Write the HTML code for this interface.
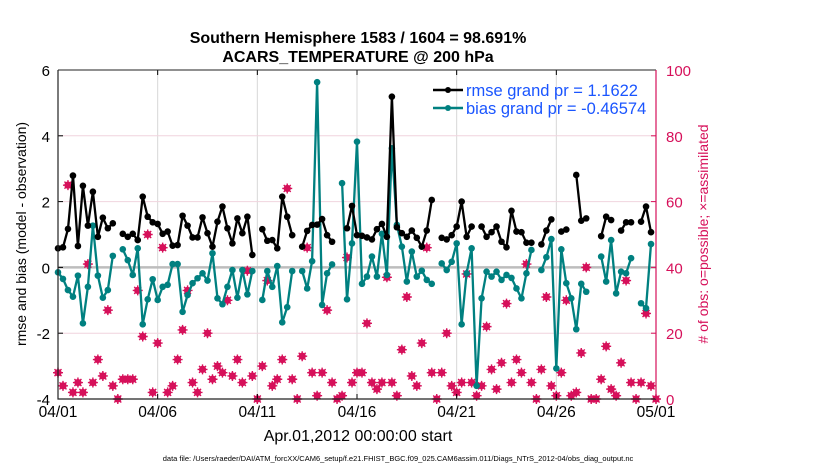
<!DOCTYPE html>
<html><head><meta charset="utf-8"><style>
body{margin:0;background:#fff;}
svg{display:block;font-family:"Liberation Sans",Arial,sans-serif;}
</style></head><body>
<svg id="c" width="830" height="470" viewBox="0 0 830 470">
<text x="358" y="43" text-anchor="middle" font-size="16" font-weight="bold">Southern Hemisphere 1583 / 1604 = 98.691%</text>
<text x="358" y="62" text-anchor="middle" font-size="16" font-weight="bold">ACARS_TEMPERATURE @ 200 hPa</text>
<g id="grid"></g>
<g id="marks"></g>
<g id="axes"></g>
<text x="358" y="441" text-anchor="middle" font-size="16">Apr.01,2012 00:00:00 start</text>
<text transform="translate(26,234) rotate(-90)" text-anchor="middle" font-size="14">rmse and bias (model - observation)</text>
<text transform="translate(708,234) rotate(-90)" text-anchor="middle" font-size="14" fill="#d6105a"># of obs: o=possible; ×=assimilated</text>
<text x="398" y="461" text-anchor="middle" font-size="7.5">data file: /Users/raeder/DAI/ATM_forcXX/CAM6_setup/f.e21.FHIST_BGC.f09_025.CAM6assim.011/Diags_NTrS_2012-04/obs_diag_output.nc</text>
<g>
<line x1="433" y1="90" x2="463" y2="90" stroke="#000" stroke-width="2.5"/>
<circle cx="448" cy="90" r="3" fill="#000"/>
<text x="466" y="96" font-size="16.5" fill="#1a55ff">rmse grand pr = 1.1622</text>
<line x1="433" y1="108" x2="463" y2="108" stroke="#008080" stroke-width="2.5"/>
<circle cx="448" cy="108" r="3" fill="#008080"/>
<text x="466" y="114" font-size="16.5" fill="#1a55ff">bias grand pr = -0.46574</text>
</g>
</svg>
<script>
const xTickLabels=["04/01","04/06","04/11","04/16","04/21","04/26","05/01"];
const yLeftTicks=[-4,-2,0,2,4,6];
const yRightTicks=[0,20,40,60,80,100];
const rmse=[0.58,0.61,1.17,2.79,0.65,2.48,1.27,2.3,0.93,1.51,1.19,1.34,null,1.02,0.93,1.02,0.83,2.15,1.54,1.37,1.32,1.02,1.09,0.66,0.68,1.57,1.27,0.91,0.91,1.52,1.04,0.63,1.39,1.85,1.19,0.73,1.49,1.04,1.54,0.38,null,1.16,0.81,0.83,0.58,2.15,1.54,0.98,null,0.63,1.11,1.29,1.3,1.47,0.98,0.78,null,null,1.19,1.87,0.98,0.96,0.91,0.85,1.16,1.32,0.93,5.19,1.22,1.04,0.93,1.12,0.9,0.63,1.12,2.05,null,0.9,0.85,0.98,1.24,2.0,0.93,1.24,null,1.24,0.93,1.07,1.24,0.78,0.61,1.72,1.09,1.07,0.75,0.75,null,0.7,1.12,1.46,null,1.09,1.15,null,2.81,1.42,1.49,null,null,0.95,1.54,1.44,null,1.12,1.37,1.37,null,1.39,1.85,1.07,null];
const bias=[-0.15,-0.35,-0.69,-0.89,-0.25,-1.7,-0.59,1.27,-0.25,-0.92,-0.69,0.35,null,0.55,0.22,-0.23,0.58,-1.73,-0.97,-0.36,-0.99,-0.59,-0.53,0.1,0.1,-1.35,-0.84,-0.48,-0.33,-0.18,-0.4,0.43,-0.94,-1.12,-0.59,-0.08,-0.92,-0.08,-0.82,-0.11,null,-0.99,-0.11,-0.59,0.04,-1.67,-1.21,-0.11,null,-0.11,-0.64,0.19,5.63,-1.14,-0.18,0.09,null,2.56,-0.97,0.73,3.82,-0.5,-0.28,0.33,-0.28,1.02,-0.23,3.62,1.29,0.63,-0.43,0.48,-0.28,-0.1,-0.38,-0.5,null,0.12,-0.08,0.17,0.73,-1.73,-0.18,0.58,-3.6,-0.94,-0.13,-0.28,-0.13,-0.38,-0.23,-0.32,-0.64,-0.94,-0.18,0.53,null,-0.08,0.31,0.86,-3.07,0.55,-0.48,-0.94,-1.88,-0.5,-0.74,null,null,0.33,-0.43,0.83,-0.79,-0.13,-0.18,0.28,null,-1.09,-1.24,0.71,null];
const nobs=[8,4,65,2,5,2,41,5,12,7,27,4,0,6,6,6,33,19,50,2,17,46,2,4,12,21,33,5,2,9,20,6,10,8,30,7,12,5,39,7,0,10,36,4,6,12,64,6,0,13,46,8,1,8,27,5,0,1,43,5,8,8,23,5,3,5,37,5,1,15,31,7,4,17,46,8,0,8,20,4,2,5,38,5,1,4,22,9,3,11,29,5,12,8,41,5,0,9,31,4,1,8,30,1,2,14,40,0,0,6,16,3,1,11,36,5,0,5,26,4,0];
const NS="http://www.w3.org/2000/svg";
const X0=58,X1=656,Y0=399,Y1=70;
const xs=i=>X0+(X1-X0)*i/120;
const yl=v=>Y0-(v+4)/10*(Y0-Y1);
const yr=v=>Y0-v/100*(Y0-Y1);
function mk(t,a,p){const e=document.createElementNS(NS,t);for(const k in a)e.setAttribute(k,a[k]);p.appendChild(e);return e;}
const grid=document.getElementById('grid'),marks=document.getElementById('marks'),axes=document.getElementById('axes');
xTickLabels.forEach((l,k)=>{const x=X0+(X1-X0)*k/6;
 if(k>0&&k<6){const g=mk('line',{x1:x,x2:x,y1:Y1,y2:Y0,stroke:'#d8d8d8','stroke-width':1},grid);}
 const t=mk('text',{x:x,y:417,'text-anchor':'middle','font-size':15.5},axes);t.textContent=l;
 
 
 mk('line',{x1:x,x2:x,y1:Y0,y2:Y0-5,stroke:'#000'},axes);mk('line',{x1:x,x2:x,y1:Y1,y2:Y1+5,stroke:'#000'},axes);});
yRightTicks.forEach(v=>{const y=yr(v);
 if(v>0&&v<100&&v!==40){const g=mk('line',{x1:X0,x2:X1,y1:y,y2:y,stroke:'#f0d4de','stroke-width':1},grid);}
 const t=mk('text',{x:X1+10,y:y+6,'font-size':15,fill:'#d6105a'},axes);t.textContent=v;
 
 
 mk('line',{x1:X1,x2:X1-5,y1:y,y2:y,stroke:'#d6105a'},axes);});
yLeftTicks.forEach(v=>{const y=yl(v);
 const t=mk('text',{x:X0-8,y:y+6,'text-anchor':'end','font-size':15},axes);t.textContent=v;
 
 
 mk('line',{x1:X0,x2:X0+5,y1:y,y2:y,stroke:'#000'},axes);});
const z=mk('line',{x1:X0,x2:X1,y1:yl(0),y2:yl(0),stroke:'#bdbdbd','stroke-width':2.5},grid);


mk('path',{d:`M${X0} ${Y1}H${X1}`,stroke:'#222',fill:'none'},axes);
mk('path',{d:`M${X0} ${Y1}V${Y0}H${X1}`,stroke:'#222',fill:'none','stroke-width':1.2},axes);
mk('line',{x1:X1,x2:X1,y1:Y1,y2:Y0,stroke:'#d6105a','stroke-width':1.2},axes);
nobs.forEach((v,i)=>{const x=xs(i),y=yr(v);const g=mk('g',{},marks);
 
 
 mk('circle',{cx:x,cy:y,r:3.6,fill:'#d6105a'},g);
 mk('path',{d:`M${x-5} ${y}H${x+5}M${x} ${y-5}V${y+5}M${x-3.5} ${y-3.5}L${x+3.5} ${y+3.5}M${x+3.5} ${y-3.5}L${x-3.5} ${y+3.5}`,stroke:'#d6105a','stroke-width':1.4},g);});
function series(arr,col,name){let d='';let pen=false;
 arr.forEach((v,i)=>{if(v===null){pen=false;return;}d+=(pen?'L':'M')+xs(i).toFixed(1)+' '+yl(v).toFixed(1);pen=true;});
 const p=mk('path',{d:d,fill:'none',stroke:col,'stroke-width':2.3,'stroke-linejoin':'round'},marks);
 
 
 arr.forEach((v,i)=>{if(v===null)return;const c=mk('circle',{cx:xs(i),cy:yl(v),r:3.3,fill:col},marks);
  
  });}
series(bias,'#008080','bias');
series(rmse,'#000','rmse');
</script>
</body></html>
